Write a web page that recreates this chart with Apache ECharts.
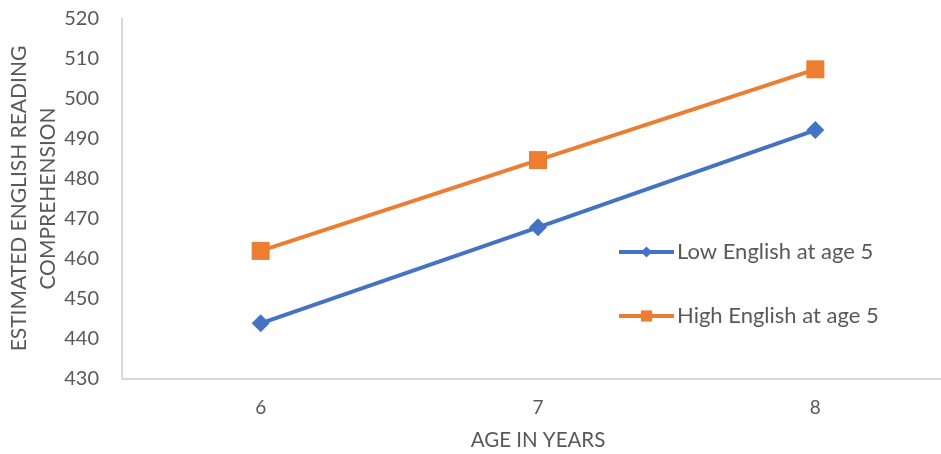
<!DOCTYPE html>
<html>
<head>
<meta charset="utf-8">
<script src="https://cdn.jsdelivr.net/npm/echarts@6/dist/echarts.min.js"></script>
<style>
  html, body { margin: 0; padding: 0; background: #fff; }
  #chart { width: 941px; height: 454px; }
</style>
</head>
<body>
<div id="chart"></div>
<script>
// Ages on the x axis
const ages = ['6', '7', '8'];
// Estimated reading comprehension scores per group
const lowEnglish = [443.8, 467.8, 492.1];
const highEnglish = [461.9, 484.6, 507.3];
const seriesNames = ['Low English at age 5', 'High English at age 5'];
const yTitle = 'ESTIMATED ENGLISH READING\nCOMPREHENSION';
const xTitle = 'AGE IN YEARS';

const textColor = '#595959';
const axisColor = '#D9D9D9';
const font = 'Lato, "Open Sans", sans-serif';

const chart = echarts.init(document.getElementById('chart'), null, { renderer: 'canvas' });
chart.setOption({
  animation: false,
  backgroundColor: '#ffffff',
  textStyle: { fontFamily: font, color: textColor },
  grid: { left: 122, top: 18.5, width: 832, height: 360, containLabel: false, outerBoundsMode: 'none' },
  legend: {
    orient: 'vertical',
    left: 617,
    top: 241,
    padding: 0,
    itemWidth: 55,
    itemHeight: 14,
    itemGap: 42,
    lineStyle: { width: 4 },
    textStyle: { fontFamily: font, fontSize: 22, color: textColor, padding: [0, 0, 0, -2] },
    data: seriesNames
  },
  xAxis: {
    type: 'category',
    data: ages,
    boundaryGap: true,
    name: xTitle,
    nameLocation: 'middle',
    nameGap: 51,
    nameMoveOverlap: false,
    nameTextStyle: { fontFamily: font, fontSize: 20.5, color: textColor },
    axisLine: { show: true, lineStyle: { color: axisColor, width: 2 } },
    axisTick: { show: false },
    axisLabel: { margin: 20, fontFamily: font, fontSize: 19, color: textColor },
    splitLine: { show: false }
  },
  yAxis: {
    type: 'value',
    min: 430,
    max: 520,
    interval: 10,
    name: yTitle,
    nameLocation: 'middle',
    nameRotate: 90,
    nameGap: 59,
    nameMoveOverlap: false,
    nameTextStyle: { fontFamily: font, fontSize: 21, color: textColor, lineHeight: 29 },
    axisLine: { show: true, lineStyle: { color: axisColor, width: 2 } },
    axisTick: { show: false },
    axisLabel: { margin: 23, fontFamily: font, fontSize: 20, color: textColor },
    splitLine: { show: false }
  },
  series: [
    {
      name: seriesNames[0],
      type: 'line',
      data: lowEnglish,
      color: '#4472C4',
      symbol: 'diamond',
      symbolSize: 18,
      lineStyle: { width: 4, color: '#4472C4' },
      itemStyle: { color: '#4472C4' }
    },
    {
      name: seriesNames[1],
      type: 'line',
      data: highEnglish,
      color: '#ED7D31',
      symbol: 'rect',
      symbolSize: 18,
      lineStyle: { width: 4, color: '#ED7D31' },
      itemStyle: { color: '#ED7D31' }
    }
  ]
});
</script>
</body>
</html>
